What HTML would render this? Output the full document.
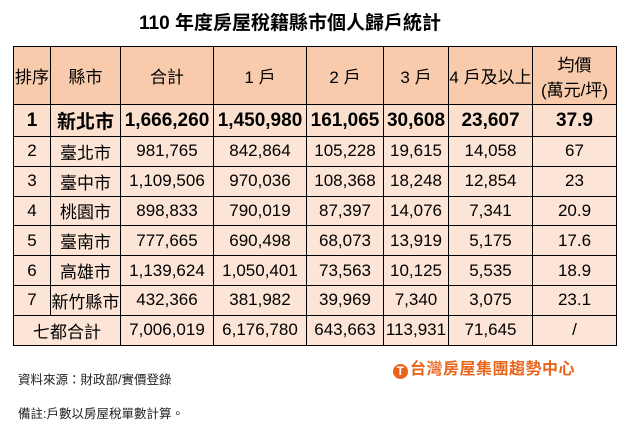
<!DOCTYPE html>
<html><head><meta charset="utf-8"><style>
body{margin:0;width:627px;height:432px;background:#fff;position:relative;overflow:hidden;font-family:"Liberation Sans","Noto Sans CJK TC",sans-serif;color:#000}
.t{position:absolute;left:100px;top:8px;width:380px;text-align:center;font-size:19px;font-weight:bold}
table{position:absolute;left:13px;top:46px;border-collapse:collapse;table-layout:fixed}
td{border:1.5px solid #000;text-align:center;font-size:17px;padding:0;white-space:nowrap;overflow:hidden;background:#fce4d6}
tr.h td{background:#f8cbad;height:57px}
tr.b td{background:#fbe0cd;font-weight:bold;font-size:19px;height:31px}
tr.r td{height:28.8px}
.f{position:absolute;left:18px;font-size:12.5px;color:#222}
.logo{position:absolute;left:393px;top:355px;font-size:16px;font-weight:bold;color:#e8641b;letter-spacing:0.5px}
.logo span{display:inline-block;width:15px;height:15px;border-radius:50%;background:#e8641b;color:#fff;font-size:12px;line-height:15px;text-align:center;vertical-align:-1px;margin-right:2px}
</style></head><body>
<div class="t">110 年度房屋稅籍縣市個人歸戶統計</div>
<table>
<colgroup><col style="width:37px"><col style="width:70px"><col style="width:93px"><col style="width:93px"><col style="width:77px"><col style="width:65px"><col style="width:84px"><col style="width:84px"></colgroup>
<tr class="h"><td>排序</td><td>縣市</td><td>合計</td><td>1 戶</td><td>2 戶</td><td>3 戶</td><td>4 戶及以上</td><td>均價<br>(萬元/坪)</td></tr>
<tr class="b"><td>1</td><td>新北市</td><td>1,666,260</td><td>1,450,980</td><td>161,065</td><td>30,608</td><td>23,607</td><td>37.9</td></tr>
<tr class="r"><td>2</td><td>臺北市</td><td>981,765</td><td>842,864</td><td>105,228</td><td>19,615</td><td>14,058</td><td>67</td></tr>
<tr class="r"><td>3</td><td>臺中市</td><td>1,109,506</td><td>970,036</td><td>108,368</td><td>18,248</td><td>12,854</td><td>23</td></tr>
<tr class="r"><td>4</td><td>桃園市</td><td>898,833</td><td>790,019</td><td>87,397</td><td>14,076</td><td>7,341</td><td>20.9</td></tr>
<tr class="r"><td>5</td><td>臺南市</td><td>777,665</td><td>690,498</td><td>68,073</td><td>13,919</td><td>5,175</td><td>17.6</td></tr>
<tr class="r"><td>6</td><td>高雄市</td><td>1,139,624</td><td>1,050,401</td><td>73,563</td><td>10,125</td><td>5,535</td><td>18.9</td></tr>
<tr class="r"><td>7</td><td>新竹縣市</td><td>432,366</td><td>381,982</td><td>39,969</td><td>7,340</td><td>3,075</td><td>23.1</td></tr>
<tr class="r"><td colspan="2">七都合計</td><td>7,006,019</td><td>6,176,780</td><td>643,663</td><td>113,931</td><td>71,645</td><td>/</td></tr>
</table>
<div class="logo"><span>T</span>台灣房屋集團趨勢中心</div>
<div class="f" style="top:369px">資料來源：財政部/實價登錄</div>
<div class="f" style="top:403px">備註:戶數以房屋稅單數計算。</div>
</body></html>
